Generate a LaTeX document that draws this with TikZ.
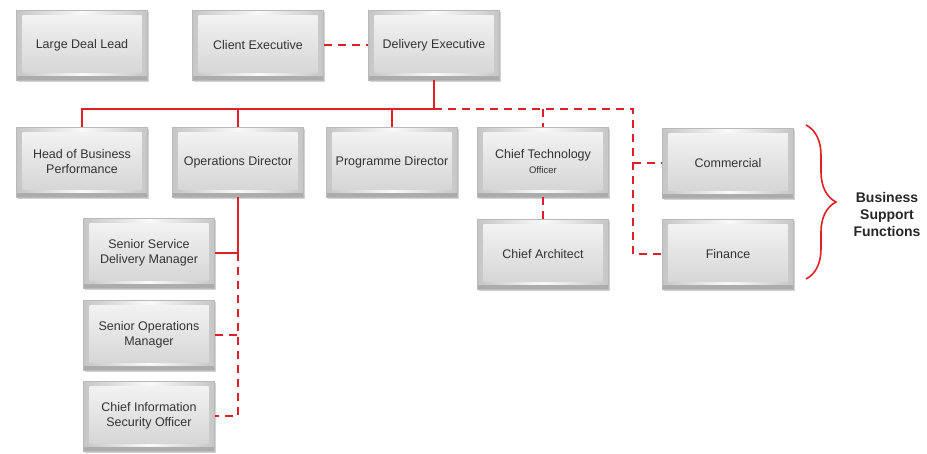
\documentclass[tikz,border=0pt]{standalone}
\usepackage{fontspec}
\setmainfont{Liberation Sans}
\usetikzlibrary{shadows,decorations.pathreplacing}
\definecolor{linered}{HTML}{E02028}
\definecolor{txt}{HTML}{333333}
\begin{document}
\begin{tikzpicture}[x=1pt,y=-1pt,
  box/.style={rectangle, minimum width=131pt, minimum height=70pt, inner sep=0pt,
    align=center, text=txt, font=\fontsize{12.5}{15}\selectfont,
    left color=gray!45, right color=gray!45, middle color=gray!4,
    draw=gray!55, line width=0.5pt,
    drop shadow={shadow xshift=1.5pt, shadow yshift=-2pt, opacity=0.35},
    path picture={
      \fill[gray!65] (path picture bounding box.south west) rectangle ([yshift=4pt]path picture bounding box.south east);
      \path[top color=gray!10, bottom color=gray!32]
        ([xshift=6pt,yshift=-5pt]path picture bounding box.north west) rectangle
        ([xshift=-6pt,yshift=8pt]path picture bounding box.south east);
    }},
  conn/.style={draw=linered, line width=2pt},
  dconn/.style={conn, dash pattern=on 8pt off 6pt}
]
\useasboundingbox (0,0) rectangle (927,453);

% boxes
\node[box] (LDL) at (82,45) {Large Deal Lead};
\node[box] (CE) at (258,45) {Client Executive};
\node[box] (DE) at (434,45) {Delivery Executive};
\node[box] (HBP) at (82,162) {Head of Business\\Performance};
\node[box] (OD) at (238,162) {Operations Director};
\node[box] (PD) at (392,162) {Programme Director};
\node[box] (CTO) at (543,162) {Chief Technology\\{\fontsize{9.5}{11}\selectfont Officer}};
\node[box] (COM) at (728,163) {Commercial};
\node[box] (CA) at (543,254) {Chief Architect};
\node[box] (FIN) at (728,254) {Finance};
\node[box] (SSDM) at (149,253) {Senior Service\\Delivery Manager};
\node[box] (SOM) at (149,335) {Senior Operations\\Manager};
\node[box] (CISO) at (149,416) {Chief Information\\Security Officer};

% coordinates
\coordinate (j) at (434,109);
\coordinate (k) at (633,109);
\coordinate (m) at (OD.south |- SSDM.east);

% connectors
\draw[dconn] (CE.east) -- (DE.west);
\draw[conn] (DE.south) -- (j);
\draw[conn] (j) -| (HBP.north);
\draw[conn] (j) -| (OD.north);
\draw[conn] (j) -| (PD.north);
\draw[dconn] (j) -- (k) |- (FIN.west);
\draw[dconn] (COM.west -| k) -- (COM.west);
\draw[dconn] (CTO.north |- j) -- (CTO.north);
\draw[dconn] (CTO.south) -- (CA.north);
\draw[conn] (OD.south) -- (m) -- (SSDM.east);
\draw[dconn] (m) -- (m |- CISO.east) -- (CISO.east);
\draw[dconn] (SOM.east) -- (SOM.east -| m);

% brace
\coordinate (bt) at (806,125);
\coordinate (bb) at (806,279);
\draw[draw=linered, line width=1.6pt, decorate, decoration={brace, amplitude=30pt, aspect=0.5}] (bt) -- (bb);
\node[font=\bfseries\fontsize{14}{17}\selectfont, align=center, text=black!85] (BSF) at (887,214) {Business\\Support\\Functions};
\end{tikzpicture}
\end{document}
